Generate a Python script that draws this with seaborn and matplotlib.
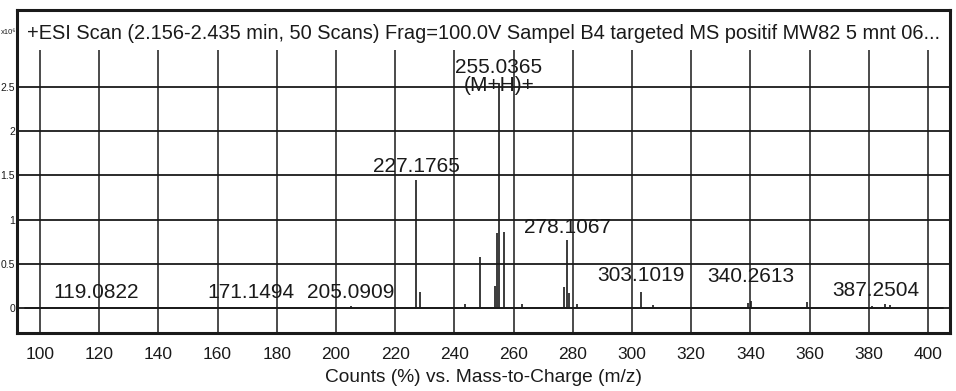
import matplotlib
matplotlib.use("Agg")
import matplotlib.pyplot as plt
import seaborn as sns
import pandas as pd

# ---------------- data ----------------
title = ("+ESI Scan (2.156-2.435 min, 50 Scans) Frag=100.0V Sampel B4 "
         "targeted MS positif MW82 5 mnt 06...")
x_ticks = [100, 120, 140, 160, 180, 200, 220, 240, 260, 280, 300, 320, 340, 360, 380, 400]
y_ticks = [0, 0.5, 1, 1.5, 2, 2.5]
y_tick_labels = ["0", "0.5", "1", "1.5", "2", "2.5"]
y_scale_label = "x10\u2076"
x_label = "Counts (%) vs. Mass-to-Charge (m/z)"

# peaks (m/z, intensity in units of 1e6 counts)
peak_mz = [119.08, 171.15, 205.09, 227.18, 228.4, 243.5, 248.6, 253.6, 254.5,
           255.04, 256.6, 263.0, 277.0, 278.11, 278.8, 281.5, 303.10, 307.0,
           339.2, 340.26, 359.0, 381.0, 385.5, 387.25]
peak_int = [0.01, 0.01, 0.02, 1.45, 0.18, 0.04, 0.58, 0.25, 0.85,
            2.55, 0.86, 0.05, 0.24, 0.77, 0.17, 0.04, 0.18, 0.03,
            0.06, 0.08, 0.07, 0.02, 0.04, 0.03]

# annotated peaks: label text, label x (m/z), label y
ann_text = ["119.0822", "171.1494", "205.0909", "227.1765", "255.0365\n(M+H)+",
            "278.1067", "303.1019", "340.2613", "387.2504"]
ann_x = [119.08, 171.15, 205.09, 227.18, 255.04, 278.11, 303.10, 340.26, 382.3]
ann_y = [0.18, 0.18, 0.17, 1.60, 2.62, 0.91, 0.37, 0.36, 0.20]

# ---------------- plot ----------------
sns.set_theme(style="white")
plt.rcParams["font.family"] = ["Liberation Sans", "DejaVu Sans"]

fig = plt.figure(figsize=(9.56, 3.91), dpi=100)
ax = fig.add_axes([17 / 956, 58 / 391, 933 / 956, 323 / 391])

x0, x1 = 92.23, 407.43
y0, y1 = -0.283, 3.371
ax.set_xlim(x0, x1)
ax.set_ylim(y0, y1)

ink = "#1a1a1a"

# grid
ax.hlines(y_ticks, x0, x1, color=ink, lw=1.3, zorder=1)
ax.vlines(x_ticks, y0, 2.92, color=ink, lw=1.1, zorder=1)

# spectrum
df = pd.DataFrame({"mz": peak_mz, "counts": peak_int})
ax.vlines(df["mz"], 0, df["counts"], color=ink, lw=1.2, zorder=2)
sns.lineplot(x=[x_ticks[0] - 5, x_ticks[-1] + 5], y=[0, 0], ax=ax,
             color=ink, lw=1.3, zorder=2)

# annotations
for t, xx, yy in zip(ann_text, ann_x, ann_y):
    ax.text(xx, yy, t, ha="center", va="center", fontsize=15, color=ink,
            linespacing=0.95, zorder=3)

# title inside the frame
ax.text(x0 + 3.4, 3.11, title, ha="left", va="center", fontsize=14.45,
        color=ink, zorder=3)

# axes styling
for s in ax.spines.values():
    s.set_color(ink)
    s.set_linewidth(2.2)
ax.set_xticks(x_ticks)
ax.set_xticklabels([str(v) for v in x_ticks], fontsize=12.5, color=ink)
ax.tick_params(axis="x", direction="out", length=5, width=1, color=ink, pad=5)
ax.set_yticks(y_ticks)
ax.set_yticklabels(y_tick_labels, fontsize=7.5, color=ink)
ax.tick_params(axis="y", length=0, pad=1.5)
fig.text(0.5 / 956, 1 - 33 / 391, y_scale_label, ha="left", va="center",
         fontsize=5.5, color=ink)
ax.set_xlabel(x_label, fontsize=13.8, color=ink, labelpad=5)
ax.set_ylabel("")

fig.savefig("out.png", dpi=100)
